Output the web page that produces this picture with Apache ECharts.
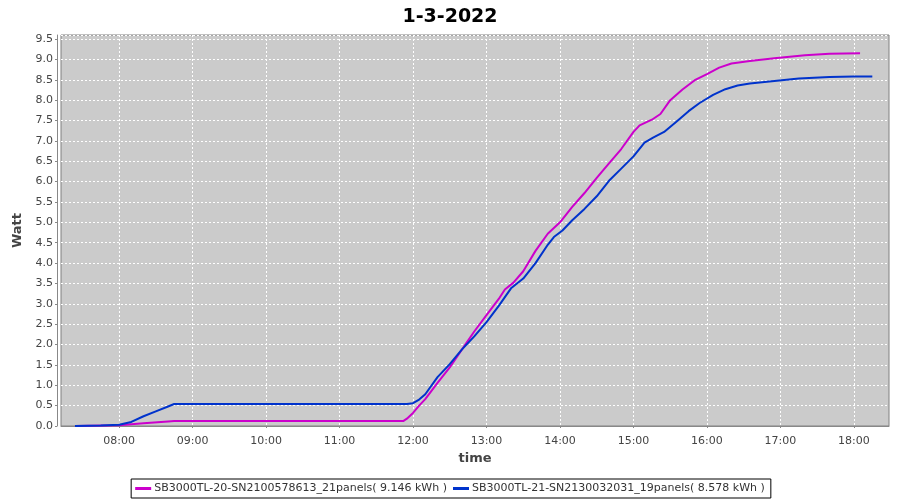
<!DOCTYPE html>
<html>
<head>
<meta charset="utf-8">
<script src="https://cdn.jsdelivr.net/npm/echarts@6/dist/echarts.min.js"></script>
<style>
  html, body { margin: 0; padding: 0; background: #fff; }
  #chart { width: 900px; height: 500px; }
</style>
</head>
<body>
<div id="chart"></div>
<script>
const titleText = "1-3-2022";
const seriesNames = [
  "SB3000TL-20-SN2100578613_21panels( 9.146 kWh )",
  "SB3000TL-21-SN2130032031_19panels( 8.578 kWh )"
];
const hourTicks = [8, 9, 10, 11, 12, 13, 14, 15, 16, 17, 18];

// magenta inverter
const timesA = ["07:24", "08:00", "08:20", "08:40", "08:45", "09:30", "10:30", "11:30", "11:52", "11:55",
  "12:00", "12:05", "12:10", "12:20", "12:30", "12:40", "12:50", "13:00", "13:10", "13:15",
  "13:22", "13:30", "13:40", "13:50", "14:00", "14:10", "14:20", "14:30", "14:40", "14:50",
  "15:00", "15:05", "15:15", "15:22", "15:30", "15:40", "15:50", "16:00", "16:10", "16:20",
  "16:35", "16:55", "17:20", "17:40", "18:05"];
const valuesA = [0.00, 0.02, 0.07, 0.11, 0.12, 0.12, 0.12, 0.12, 0.12, 0.18,
  0.32, 0.50, 0.66, 1.06, 1.44, 1.88, 2.32, 2.72, 3.12, 3.35,
  3.52, 3.80, 4.30, 4.72, 5.00, 5.38, 5.72, 6.09, 6.45, 6.80,
  7.22, 7.38, 7.52, 7.66, 8.00, 8.26, 8.49, 8.64, 8.80, 8.90,
  8.96, 9.03, 9.10, 9.14, 9.15];

// blue inverter
const timesB = ["07:24", "07:45", "08:00", "08:10", "08:20", "08:30", "08:40", "08:45", "09:30", "10:30",
  "11:30", "11:55", "12:00", "12:05", "12:10", "12:20", "12:30", "12:40", "12:50", "13:00",
  "13:10", "13:20", "13:30", "13:40", "13:50", "13:55", "14:02", "14:10", "14:20", "14:30",
  "14:40", "14:50", "15:00", "15:09", "15:16", "15:25", "15:35", "15:45", "15:54", "16:05",
  "16:15", "16:25", "16:35", "16:55", "17:15", "17:40", "18:00", "18:15"];
const valuesB = [0.00, 0.01, 0.03, 0.10, 0.24, 0.36, 0.48, 0.54, 0.54, 0.54,
  0.54, 0.54, 0.56, 0.65, 0.78, 1.20, 1.52, 1.88, 2.20, 2.55,
  2.95, 3.38, 3.62, 4.00, 4.45, 4.64, 4.80, 5.05, 5.33, 5.64,
  6.02, 6.32, 6.62, 6.96, 7.08, 7.22, 7.47, 7.73, 7.93, 8.13,
  8.27, 8.36, 8.41, 8.47, 8.53, 8.57, 8.58, 8.58];

function toHour(s) {
  const p = s.split(":");
  return Number(p[0]) + Number(p[1]) / 60;
}
function pairs(times, values) {
  return times.map((t, i) => [toHour(t), values[i]]);
}
function hhmm(v) {
  const h = Math.floor(v + 1e-6);
  const m = Math.round((v - h) * 60);
  return String(h).padStart(2, "0") + ":" + String(m).padStart(2, "0");
}

const font = "DejaVu Sans";
const myChart = echarts.init(document.getElementById("chart"));

const option = {
  animation: false,
  backgroundColor: "#ffffff",
  title: {
    text: titleText,
    left: "center",
    top: 3,
    textStyle: { fontFamily: font, fontSize: 19, fontWeight: "bold", color: "#000" },
  },
  legend: {
    bottom: 2,
    left: "center",
    borderColor: "#000",
    borderWidth: 1,
    borderRadius: 0,
    padding: [4, 6, 4, 4],
    itemGap: 6,
    icon: "rect",
    itemWidth: 16,
    itemHeight: 3,
    textStyle: { fontFamily: font, fontSize: 11, color: "#333", padding: [0, 0, 0, -2] },
    data: seriesNames,
  },
  grid: {
    left: 61,
    right: 11,
    top: 35,
    bottom: 74,
    show: true,
    backgroundColor: "#cbcbcb",
    borderColor: "#808080",
    borderWidth: 1,
  },
  xAxis: {
    type: "value",
    min: 7.21,
    max: 18.477,
    offset: 4,
    name: "time",
    nameLocation: "middle",
    nameGap: 22,
    nameTextStyle: { fontFamily: font, fontSize: 13, fontWeight: "bold", color: "#444" },
    axisLine: { show: true, lineStyle: { color: "#888", width: 1 } },
    axisTick: { show: true, length: 2, lineStyle: { color: "#888" }, customValues: hourTicks },
    axisLabel: {
      fontFamily: font, fontSize: 11, color: "#444", margin: 6,
      customValues: hourTicks,
      formatter: (v) => hhmm(v),
    },
    splitLine: { show: true, lineStyle: { color: "#ffffff", type: [2, 2], width: 1 } },
  },
  yAxis: {
    type: "value",
    min: 0,
    max: 9.6,
    interval: 0.5,
    offset: 4,
    name: "Watt",
    nameLocation: "middle",
    nameGap: 30,
    nameTextStyle: { fontFamily: font, fontSize: 13, fontWeight: "bold", color: "#444" },
    axisLine: { show: true, lineStyle: { color: "#888", width: 1 } },
    axisTick: { show: true, length: 2, lineStyle: { color: "#888" } },
    axisLabel: {
      fontFamily: font, fontSize: 11, color: "#444", margin: 4,
      showMaxLabel: false,
      formatter: (v) => v.toFixed(1),
    },
    splitLine: { show: true, lineStyle: { color: "#ffffff", type: [2, 2], width: 1 } },
  },
  series: [
    {
      name: seriesNames[0],
      type: "line",
      data: pairs(timesA, valuesA),
      symbol: "none",
      lineStyle: { color: "#cc00cc", width: 2 },
      itemStyle: { color: "#cc00cc" },
    },
    {
      name: seriesNames[1],
      type: "line",
      data: pairs(timesB, valuesB),
      symbol: "none",
      lineStyle: { color: "#0033cc", width: 2 },
      itemStyle: { color: "#0033cc" },
    },
  ],
};

option && myChart.setOption(option);
</script>
</body>
</html>
